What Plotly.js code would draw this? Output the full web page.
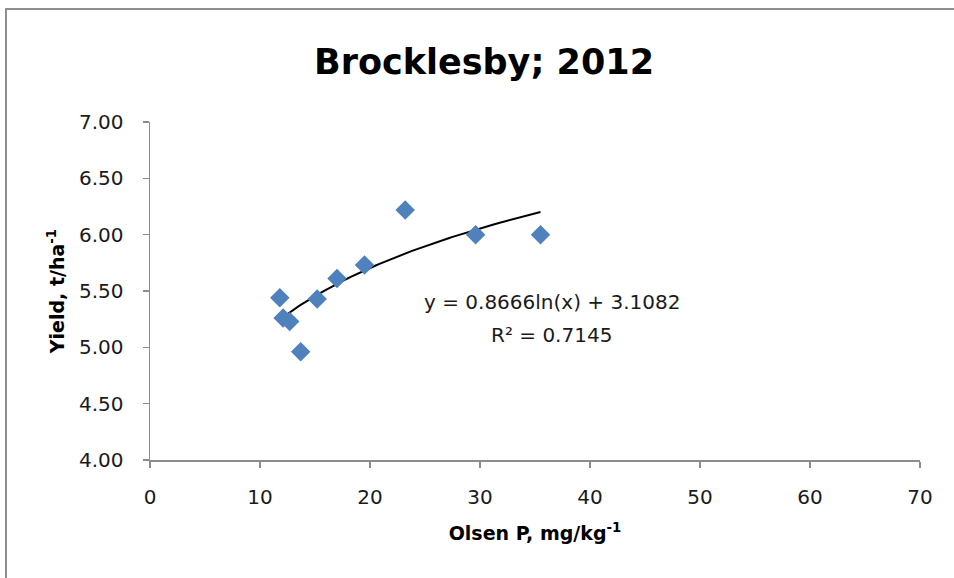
<!DOCTYPE html>
<html>
<head>
<meta charset="utf-8">
<script src="https://cdn.plot.ly/plotly-3.0.1.min.js"></script>
<style>
  html, body { margin: 0; padding: 0; background: #fff; }
  #wrap { position: relative; width: 954px; height: 578px; overflow: hidden; }
  #frame { position: absolute; left: 5px; top: 8px; width: 1000px; height: 700px;
           border: 2px solid #8e8e8e; box-sizing: border-box; }
  #chart { position: absolute; left: 0; top: 0; width: 954px; height: 578px; }
</style>
</head>
<body>
<div id="wrap">
  <div id="frame"></div>
  <div id="chart"></div>
</div>
<script>
// Data
const olsenP = [11.8, 12.1, 12.7, 13.7, 15.2, 17.0, 19.5, 23.2, 29.6, 35.5];
const yieldT = [5.44, 5.26, 5.23, 4.96, 5.43, 5.61, 5.73, 6.22, 6.00, 6.00];

// Logarithmic trendline as printed on the chart: y = a*ln(x) + b
const trendA = 0.8666;
const trendB = 3.1082;
const trendR2 = 0.7145;

const xTickVals = [0, 10, 20, 30, 40, 50, 60, 70];
const yTickVals = [4.0, 4.5, 5.0, 5.5, 6.0, 6.5, 7.0];

const xMin = Math.min(...olsenP), xMax = Math.max(...olsenP);
const trendX = [], trendY = [];
for (let i = 0; i <= 100; i++) {
  const x = xMin + (xMax - xMin) * i / 100;
  trendX.push(x);
  trendY.push(trendA * Math.log(x) + trendB);
}

const traces = [
  {
    x: trendX, y: trendY, type: 'scatter', mode: 'lines',
    line: { color: '#000000', width: 2 },
    hoverinfo: 'skip', showlegend: false
  },
  {
    x: olsenP, y: yieldT, type: 'scatter', mode: 'markers',
    marker: { symbol: 'diamond', size: 15, color: '#4F81BD', line: { width: 0 } },
    showlegend: false
  }
];

const tickFont = { family: 'DejaVu Sans, sans-serif', size: 20, color: '#1a1a1a' };

const layout = {
  width: 954, height: 578,
  paper_bgcolor: 'rgba(0,0,0,0)', plot_bgcolor: 'rgba(0,0,0,0)',
  margin: { l: 150, r: 34, t: 122, b: 118 },
  showlegend: false,
  title: {
    text: '<b>Brocklesby; 2012</b>',
    font: { family: 'DejaVu Sans, sans-serif', size: 35, color: '#000' },
    xref: 'container', yref: 'container',
    x: 484 / 954, y: 1 - 62 / 578, xanchor: 'center', yanchor: 'middle'
  },
  xaxis: {
    range: [0, 70], tickvals: xTickVals, ticktext: xTickVals.map(String),
    showgrid: false, zeroline: false,
    showline: true, linecolor: '#8c8c8c', linewidth: 1.5,
    ticks: 'outside', ticklen: 6, tickwidth: 1.5, tickcolor: '#8c8c8c',
    tickfont: tickFont, ticklabelstandoff: 12,
    title: {
      text: '<b>Olsen P, mg/kg<sup>-1</sup></b>',
      font: { family: 'DejaVu Sans, sans-serif', size: 19, color: '#000' },
      standoff: 19
    }
  },
  yaxis: {
    range: [4, 7], tickvals: yTickVals, ticktext: yTickVals.map(v => v.toFixed(2)),
    showgrid: false, zeroline: false,
    showline: true, linecolor: '#8c8c8c', linewidth: 1.5,
    ticks: 'outside', ticklen: 6, tickwidth: 1.5, tickcolor: '#8c8c8c',
    tickfont: tickFont, ticklabelstandoff: 15,
    title: {
      text: '<b>Yield, t/ha<sup>-1</sup></b>',
      font: { family: 'DejaVu Sans, sans-serif', size: 19, color: '#000' },
      standoff: 9
    }
  },
  annotations: [
    {
      xref: 'x', yref: 'y', x: 36.5, y: 5.40,
      text: 'y = ' + trendA.toFixed(4) + 'ln(x) + ' + trendB.toFixed(4),
      showarrow: false, xanchor: 'center', yanchor: 'middle',
      font: { family: 'DejaVu Sans, sans-serif', size: 20, color: '#1a1a1a' }
    },
    {
      xref: 'x', yref: 'y', x: 36.5, y: 5.11,
      text: 'R² = ' + trendR2.toFixed(4),
      showarrow: false, xanchor: 'center', yanchor: 'middle',
      font: { family: 'DejaVu Sans, sans-serif', size: 20, color: '#1a1a1a' }
    }
  ]
};

Plotly.newPlot('chart', traces, layout, { displayModeBar: false, staticPlot: true });
</script>
</body>
</html>
